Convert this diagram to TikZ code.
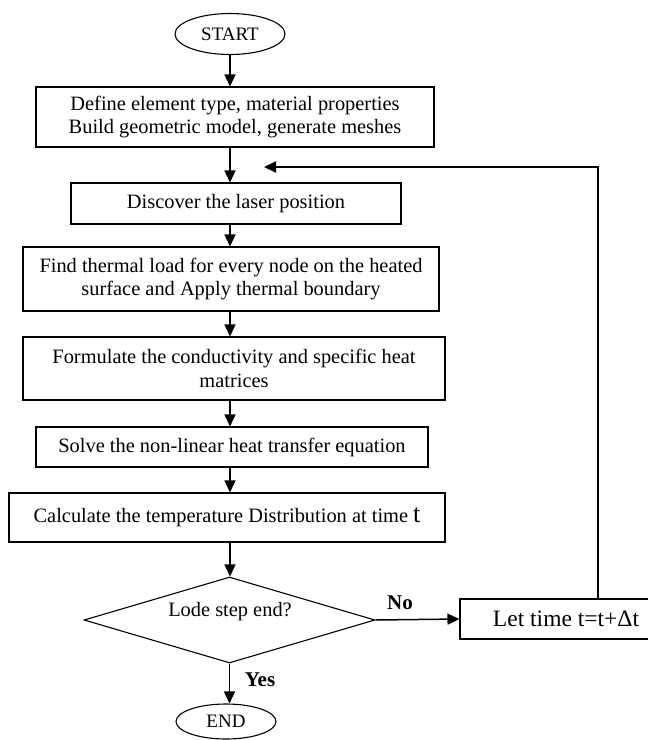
\documentclass[tikz,border=0pt]{standalone}
\usepackage{fontspec}
\setmainfont{Liberation Serif}
\usetikzlibrary{arrows.meta,shapes.geometric}
\tikzset{
  procbox/.style={draw, line width=1.1pt, rectangle, inner sep=0pt, align=center,
    font=\fontsize{20.4}{23.5}\selectfont},
  termnode/.style={draw, line width=1.1pt, ellipse, inner sep=0pt,
    font=\fontsize{19}{21}\selectfont},
  decnode/.style={draw, line width=1.1pt, diamond, inner sep=0pt},
  arr/.style={line width=1.5pt, -{Triangle[length=12pt,width=11pt]}},
  lbl/.style={font=\fontsize{21}{23.5}\selectfont\bfseries, inner sep=0pt},
  plain/.style={font=\fontsize{20.4}{23.5}\selectfont, inner sep=0pt}
}
\begin{document}
\begin{tikzpicture}[x=1pt,y=-1pt]
\useasboundingbox (0,0) rectangle (648,740);
\coordinate (spine) at (230,0);
\node[termnode, minimum width=110pt, minimum height=41pt] (start) at (230,34) {START};
\node[procbox, minimum width=398pt, minimum height=60pt] (b1) at (235,117)
  {Define element type, material properties\\Build geometric model, generate meshes};
\node[procbox, minimum width=330pt, minimum height=41pt] (b2) at (236,203.5)
  {Discover the laser position};
\node[procbox, minimum width=416pt, minimum height=64pt] (b3) at (231,279)
  {Find thermal load for every node on the heated\\surface and Apply thermal boundary};
\node[procbox, minimum width=422pt, minimum height=63pt] (b4) at (234,368.5)
  {Formulate the conductivity and specific heat\\matrices};
\node[procbox, minimum width=392pt, minimum height=40pt] (b5) at (232,447)
  {Solve the non-linear heat transfer equation};
\node[procbox, minimum width=436pt, minimum height=49pt] (b6) at (227,517.5)
  {Calculate the temperature Distribution at time {\fontsize{26}{26}\selectfont t}};
\node[decnode, minimum width=291pt, minimum height=86pt] (dia) at (229.5,620) {};
\node[plain] (diatext) at (230,612) {Lode step end?};
\node[procbox, minimum width=212pt, minimum height=40pt, font=\fontsize{23.5}{26}\selectfont] (let) at (566,619) {Let time t=t+Δt};
\node[termnode, minimum width=100pt, minimum height=35pt] (end) at (226,721.5) {END};
\node[lbl] (no) at (400,603) {No};
\node[lbl] (yes) at (260,680) {Yes};
\coordinate (loopx) at (598,0);
\coordinate (loopend) at (264,167);

\draw[arr] (start.south -| spine) -- (b1.north -| spine);
\draw[arr] (b1.south -| spine) -- (b2.north -| spine);
\draw[arr] (b2.south -| spine) -- (b3.north -| spine);
\draw[arr] (b3.south -| spine) -- (b4.north -| spine);
\draw[arr] (b4.south -| spine) -- (b5.north -| spine);
\draw[arr] (b5.south -| spine) -- (b6.north -| spine);
\draw[arr] (b6.south -| spine) -- (dia.north -| spine);
\draw[arr] (dia.east) -- (let.west);
\draw[arr, line width=2pt] (let.north -| loopx) |- (loopend);
\draw[arr] (dia.south) -- (dia.south |- end.north);
\end{tikzpicture}
\end{document}
